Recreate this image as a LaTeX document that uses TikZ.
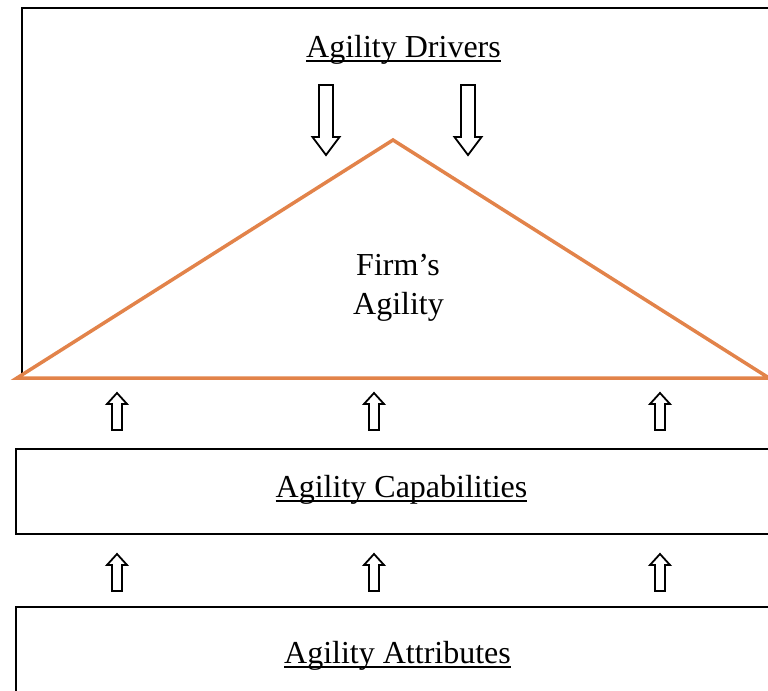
\documentclass[tikz,border=0pt]{standalone}
\usepackage{fontspec}
\setmainfont{Liberation Serif}
\definecolor{triorange}{RGB}{226,131,74}
\newcommand\myul[1]{\setbox0=\hbox{#1}\rlap{\rule[-2.5pt]{\wd0}{1pt}}\box0}
\begin{document}
\begin{tikzpicture}[x=0.5pt,y=-0.5pt,
  lbl/.style={font=\fontsize{16}{19}\selectfont, inner sep=0pt, anchor=base},
  boxline/.style={draw=black, line width=1.1pt},
  blockarrow/.style={draw=black, line width=0.9pt, fill=white, line join=miter},
  triline/.style={draw=triorange, line width=1.75pt, line join=miter},
  uparrow/.pic={\draw[blockarrow] (-5,37)--(-5,11)--(-10,11)--(0,0)--(10,11)--(5,11)--(5,37)--cycle;},
  downarrow/.pic={\draw[blockarrow] (-7,0)--(-7,52)--(-13.5,52)--(0,70)--(13.5,52)--(7,52)--(7,0)--cycle;}
]
\useasboundingbox (0,0) rectangle (768,691);
\clip (0,0) rectangle (768,691);
% boxes
\draw[boxline] (22,8) rectangle (800,378);
\draw[boxline] (16,449) rectangle (800,534);
\draw[boxline] (16,607) rectangle (800,720);
% triangle
\draw[triline] (17,378) -- (393,140) -- (769,378) -- cycle;
% down arrows
\pic at (326,85) {downarrow};
\pic at (468,85) {downarrow};
% up arrows
\foreach \x in {117,374,660} {
  \pic at (\x,393) {uparrow};
  \pic at (\x,554) {uparrow};
}
% labels
\node[lbl] (drivers) at (403.5,57) {\myul{Agility Drivers}};
\node[lbl] (firmA) at (398,275) {Firm’s};
\node[lbl] (firmB) at (398.5,314) {Agility};
\node[lbl] (cap) at (401.5,497) {\myul{Agility Capabilities}};
\node[lbl] (attr) at (397.5,663) {\myul{Agility Attributes}};
\end{tikzpicture}
\end{document}
